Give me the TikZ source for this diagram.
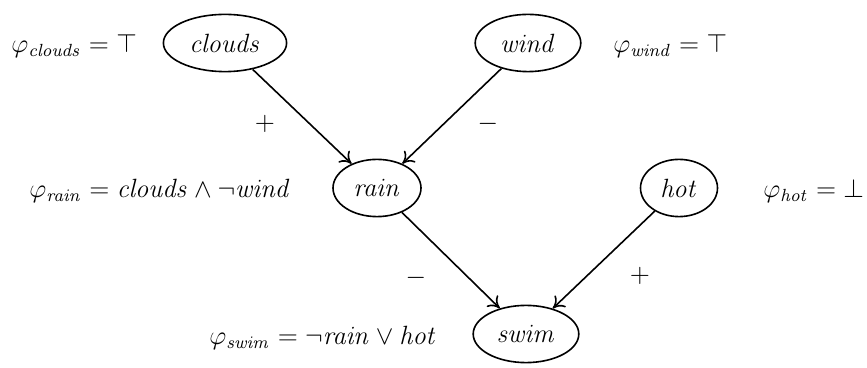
\documentclass[tikz,border=0pt]{standalone}
\usetikzlibrary{shapes.geometric,arrows.meta}
\begin{document}
\begin{tikzpicture}[x=0.5pt,y=-0.5pt,
  txt/.style={font=\fontsize{12}{14}\selectfont,scale=1.1,transform shape},
  var/.style={txt,ellipse,draw,thick,inner sep=0pt,minimum height=26pt},
  lbl/.style={txt,inner sep=0pt},
  arr/.style={-{To[length=5.5pt,width=8pt]},thick},
  sgn/.style={txt,inner sep=0pt}]
\useasboundingbox (0,0) rectangle (867,368);
\node[var,minimum width=56pt] (clouds) at (225,43) {$\mathit{clouds}$};
\node[var,minimum width=48pt] (wind) at (528,43) {$\mathit{wind}$};
\node[var,minimum width=40pt] (rain) at (377,188) {$\mathit{rain}$};
\node[var,minimum width=35pt] (hot) at (679,188) {$\mathit{hot}$};
\node[var,minimum width=48pt] (swim) at (526,334) {$\mathit{swim}$};
\node[lbl,anchor=west] (fc) at (11,46) {$\varphi_{\mathit{clouds}} = \top$};
\node[lbl,anchor=west] (fw) at (613,46) {$\varphi_{\mathit{wind}} = \top$};
\node[lbl,anchor=west] (fr) at (29,191) {$\varphi_{\mathit{rain}} = \mathit{clouds} \wedge \neg \mathit{wind}$};
\node[lbl,anchor=west] (fh) at (763,191) {$\varphi_{\mathit{hot}} = \bot$};
\node[lbl,anchor=west] (fs) at (209,338) {$\varphi_{\mathit{swim}} = \neg \mathit{rain} \vee \mathit{hot}$};
\draw[arr] (clouds) -- (rain);
\draw[arr] (wind) -- (rain);
\draw[arr] (rain) -- (swim);
\draw[arr] (hot) -- (swim);
\node[sgn] (s1) at (265,124) {$+$};
\node[sgn] (s2) at (488,124) {$-$};
\node[sgn] (s3) at (416,278) {$-$};
\node[sgn] (s4) at (640,276) {$+$};
\end{tikzpicture}
\end{document}
